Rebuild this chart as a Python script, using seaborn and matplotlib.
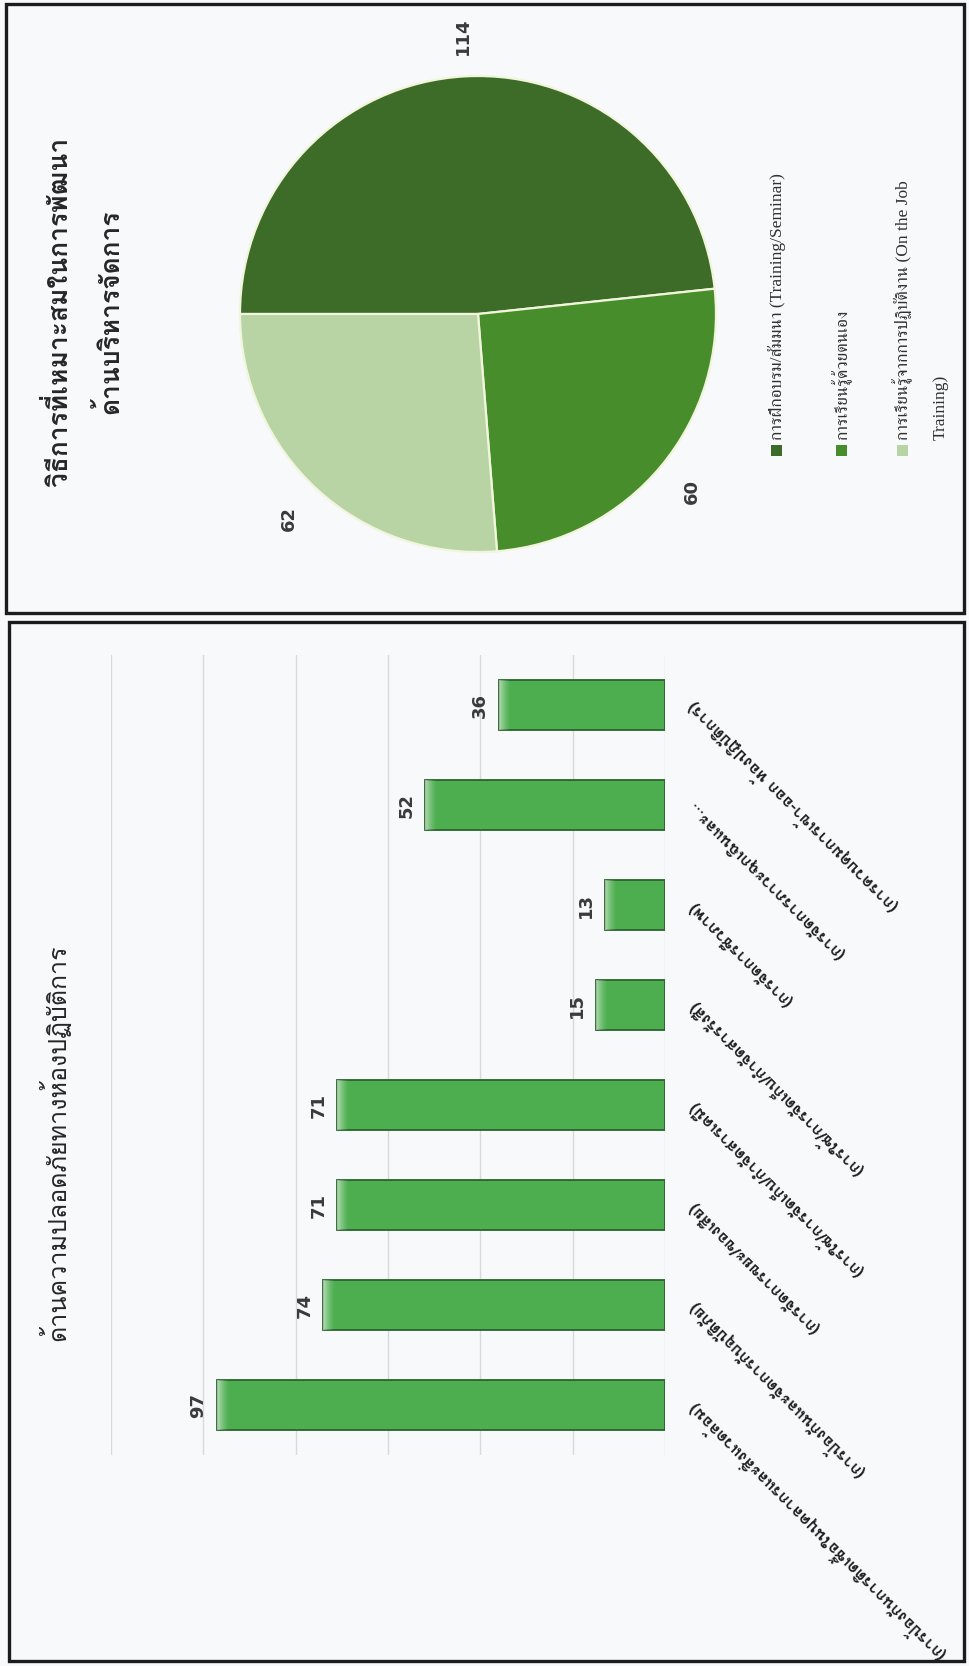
import numpy as np
import matplotlib
matplotlib.use("Agg")
import matplotlib.pyplot as plt
import seaborn as sns
import pandas as pd
from matplotlib import font_manager
from matplotlib.ft2font import FT2Font
from matplotlib.patches import Rectangle

# ---- data -------------------------------------------------------------
pie_title_lines = ["วิธีการที่เหมาะสมในการพัฒนา", "ด้านบริหารจัดการ"]
pie_labels = [
    "การฝึกอบรม/สัมมนา (Training/Seminar)",
    "การเรียนรู้ด้วยตนเอง",
    "การเรียนรู้จากการปฏิบัติงาน (On the Job\nTraining)",
]
pie_values = [114, 60, 62]
pie_colors = ["#3d6b28", "#488d2b", "#b8d4a4"]

bar_title = "ด้านความปลอดภัยทางห้องปฏิบัติการ"
bar_categories = [
    "(การป้องกันการติดเชื้อในบุคลากรและสิ่งแวดล้อม)",
    "(การป้องกันและจัดการกับอุบัติภัย)",
    "(การจัดการขยะ/ของเสีย)",
    "(การใช้/การจัดเก็บ/กำจัดสารเคมี)",
    "(การใช้/การจัดเก็บ/กำจัดสารรังสี)",
    "(การจัดการชีวภาพ)",
    "(การจัดการภาวะฉุกเฉินและ…",
    "(การควบคุมการเข้า-ออก ห้องปฏิบัติการ)",
]
bar_values = [97, 74, 71, 71, 15, 13, 52, 36]
grid_ticks = [0, 20, 40, 60, 80, 100, 120]


# ---- fonts: find installed faces that carry Thai glyphs -------------------
def thai_faces():
    found = []
    for fe in font_manager.fontManager.ttflist:
        try:
            if FT2Font(fe.fname).get_char_index(ord("ก")):
                found.append(fe.name)
        except Exception:
            pass
    return list(dict.fromkeys(found))


faces = thai_faces()
sans_pref = [f for f in faces if "Sans" in f or "Loma" in f or "Garuda" in f]
serif_pref = [f for f in faces if "Serif" in f or "Norasi" in f]
thai_sans = (sans_pref or faces or ["DejaVu Sans"])[0]
thai_serif = (serif_pref or [thai_sans])[0]

sns.set_theme(style="white")
plt.rcParams["font.family"] = [thai_sans, "DejaVu Sans"]

W, H = 970, 1666
fig = plt.figure(figsize=(W / 100, H / 100), dpi=100)
fig.patch.set_facecolor("#f8f9fb")

# ---- panel frames ---------------------------------------------------------
def frame(x0, y0, x1, y1, lw=2.4):
    fig.add_artist(Rectangle((x0 / W, 1 - y1 / H), (x1 - x0) / W, (y1 - y0) / H,
                             transform=fig.transFigure, fill=False,
                             edgecolor="#1c1c1c", linewidth=lw, zorder=10))

frame(6, 4, 964, 613)
frame(9, 622, 964, 1661)

# ---- pie panel (axes in pixel units, y measured upward) -------------------
top, bottom, left, right = 4, 613, 6, 964
ax_p = fig.add_axes([left / W, 1 - bottom / H, (right - left) / W, (bottom - top) / H])
wedges, texts = ax_p.pie(
    pie_values,
    colors=pie_colors,
    radius=238,
    center=(478, H - 314),
    startangle=180,
    counterclock=False,
    labels=[str(v) for v in pie_values],
    labeldistance=1.17,
    wedgeprops=dict(edgecolor="#f1f5dc", linewidth=1.6),
    textprops=dict(fontsize=13, fontweight="bold", color="#3a3a3a",
                   family=["DejaVu Sans"]),
)
for t in texts:
    t.set_rotation(90)
    t.set_ha("center")
    t.set_va("center")
ax_p.set_xlim(left, right)
ax_p.set_ylim(H - bottom, H - top)
ax_p.set_aspect("auto")
ax_p.axis("off")

# title (two lines, rotated)
for i, line in enumerate(pie_title_lines):
    ax_p.text(59 + i * 50, H - 312, line, rotation=90, ha="center", va="center",
              fontsize=19, fontweight="bold", color="#262626")

# legend, drawn rotated
legend_x = [777, 842, 903]
for i, (lab, col) in enumerate(zip(pie_labels, pie_colors)):
    x = legend_x[i]
    ax_p.add_patch(Rectangle((x - 5.5, H - 456), 11, 11, facecolor=col, edgecolor="none"))
    for k, part in enumerate(lab.split("\n")):
        ax_p.text(x + k * 38, H - 440, part, rotation=90, ha="center", va="bottom",
                  fontsize=12.5, color="#303030",
                  family=["Liberation Serif", thai_serif, "DejaVu Serif"])

# ---- bar panel --------------------------------------------------------------
bx0, bx1, by0, by1 = 111, 665, 655, 1455
ax_b = fig.add_axes([bx0 / W, 1 - by1 / H, (bx1 - bx0) / W, (by1 - by0) / H])
ax_b.set_facecolor("none")
df = pd.DataFrame({"category": bar_categories, "value": bar_values})
sns.barplot(data=df, y="category", x="value", orient="h", color="#4cae4f",
            saturation=1, width=0.5, edgecolor="#2a632c", linewidth=1.3, ax=ax_b)

# bevel highlight at the end of each bar, clipped to the bar outline
bevel = 2.6  # data units
for p in ax_b.containers[0].patches:
    x0, w = p.get_x(), p.get_width()
    y0, h = p.get_y(), p.get_height()
    t = np.linspace(0, 1, 256)
    xs = x0 + t * w
    a = np.clip(1 - (x0 + w - xs) / bevel, 0, 1) ** 1.5 * 0.55
    img = np.ones((1, 256, 4))
    img[..., 3] = a
    ax_b.imshow(img, extent=[x0, x0 + w, y0, y0 + h], aspect="auto",
                clip_path=p, zorder=p.get_zorder() + 0.1, interpolation="bilinear")

ax_b.set_xlim(120, 0)
ax_b.set_ylim(-0.5, len(bar_categories) - 0.5)
ax_b.set_aspect("auto")
ax_b.set_xticks(grid_ticks)
ax_b.set_xticklabels([])
ax_b.grid(axis="x", color="#d9d9d9", linewidth=1)
ax_b.grid(axis="y", visible=False)
ax_b.set_axisbelow(True)
for s in ax_b.spines.values():
    s.set_visible(False)
ax_b.set_xlabel("")
ax_b.set_ylabel("")
ax_b.yaxis.tick_right()
ax_b.tick_params(axis="both", length=0)
ax_b.set_yticks(range(len(bar_categories)))
ax_b.set_yticklabels(bar_categories, rotation=135, rotation_mode="anchor",
                     ha="right", va="center", fontsize=12, fontweight="bold",
                     color="#1e1e1e")
ax_b.tick_params(axis="y", pad=18)

ax_b.bar_label(ax_b.containers[0], labels=[str(v) for v in bar_values], padding=7,
               rotation=90, fontsize=13, fontweight="bold", color="#3a3a3a",
               family=["DejaVu Sans"])

fig.text(54 / W, 1 - 1143 / H, bar_title, rotation=90, ha="center", va="center",
         fontsize=18, color="#262626")

fig.savefig("out.png", dpi=100, facecolor=fig.get_facecolor())
